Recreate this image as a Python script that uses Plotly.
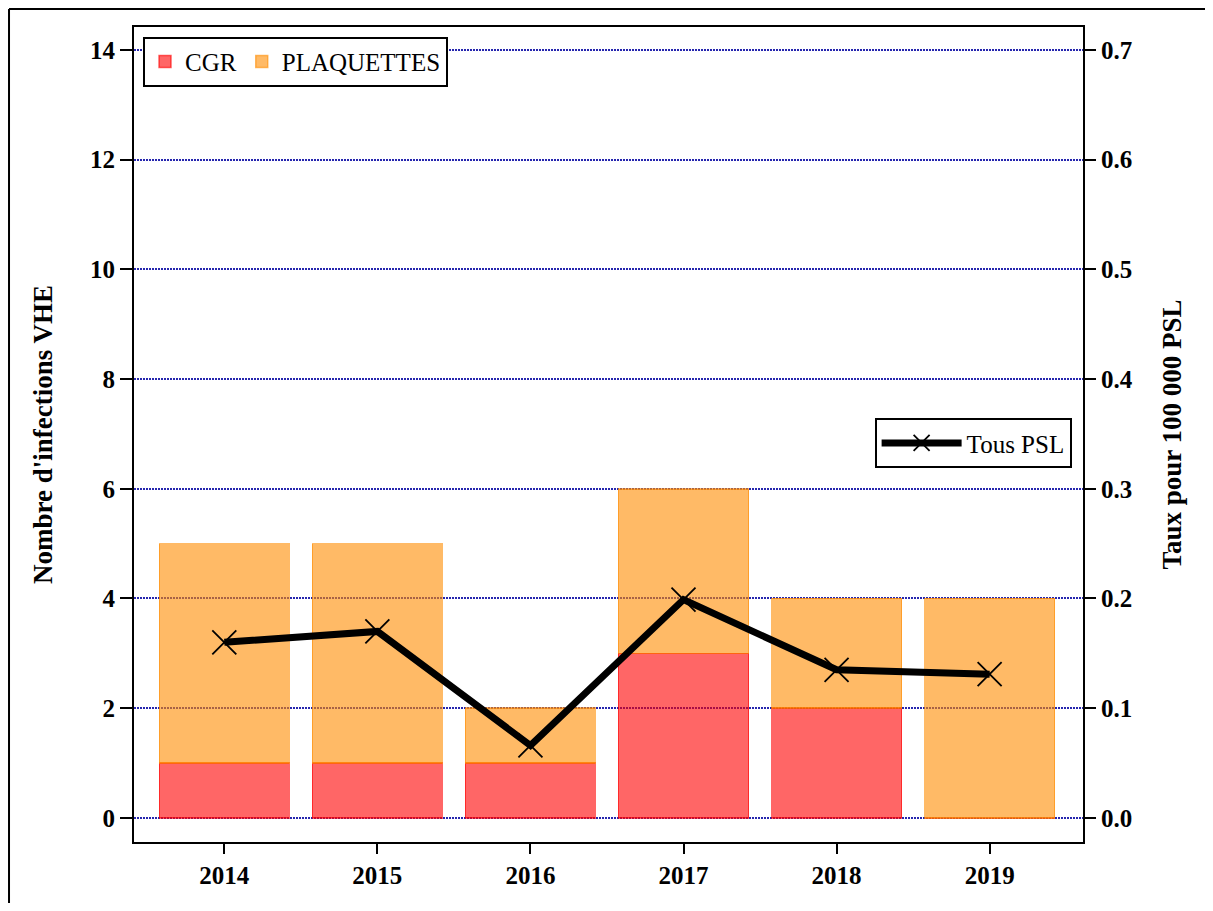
import plotly.graph_objects as go

years = ["2014", "2015", "2016", "2017", "2018", "2019"]
cgr = [1, 1, 1, 3, 2, 0]
plaquettes = [4, 4, 1, 3, 2, 4]
taux = [0.160, 0.170, 0.066, 0.199, 0.135, 0.131]

FONT = "Liberation Serif"

fig = go.Figure()
fig.add_trace(go.Bar(
    x=years, y=cgr, name="CGR", legend="legend",
    marker=dict(color="rgba(255,0,0,0.6)", line=dict(color="rgba(255,0,0,0.6)", width=1.5)),
    width=0.85,
))
fig.add_trace(go.Bar(
    x=years, y=plaquettes, name="PLAQUETTES", legend="legend",
    marker=dict(color="rgba(255,140,0,0.6)", line=dict(color="rgba(255,140,0,0.6)", width=1.5)),
    width=0.85,
))
fig.add_trace(go.Scatter(
    x=years, y=taux, name="Tous PSL", yaxis="y2", legend="legend2",
    mode="lines+markers",
    line=dict(color="black", width=7),
    marker=dict(symbol="x-thin", size=24, line=dict(color="black", width=1.8), color="black"),
))

fig.update_layout(
    width=1197, height=895,
    barmode="stack",
    plot_bgcolor="white", paper_bgcolor="white",
    margin=dict(l=126, r=122, t=19, b=61),
    font=dict(family=FONT, size=25, color="black"),
    xaxis=dict(
        type="category", range=[-0.59, 5.61],
        showline=True, linecolor="black", linewidth=2, mirror=True,
        ticks="outside", ticklen=10, tickwidth=2, tickcolor="black",
        tickfont=dict(family=FONT, size=25, color="black", weight="bold"),
        showgrid=False,
    ),
    yaxis=dict(
        range=[-0.44, 14.42], dtick=2, tick0=0,
        showline=True, linecolor="black", linewidth=2, mirror=True,
        ticks="outside", ticklen=12, tickwidth=2, tickcolor="black",
        tickfont=dict(family=FONT, size=25, color="black", weight="bold"),
        showgrid=True, gridcolor="rgba(0,0,160,0.85)", gridwidth=2, griddash="1.5px,1.5px",
        zeroline=False,
        title=dict(text="Nombre d'infections VHE", font=dict(family=FONT, size=27, color="black", weight="bold"), standoff=30),
    ),
    yaxis2=dict(
        overlaying="y", side="right",
        range=[-0.022, 0.721], dtick=0.1, tick0=0, tickformat=".1f",
        ticks="outside", ticklen=12, tickwidth=2, tickcolor="black",
        tickfont=dict(family=FONT, size=25, color="black", weight="bold"),
        showgrid=False, zeroline=False, showline=False,
        title=dict(text="Taux pour 100 000 PSL", font=dict(family=FONT, size=27, color="black", weight="bold"), standoff=30),
    ),
    legend=dict(
        orientation="h", x=0.0095, y=0.988, xanchor="left", yanchor="top",
        bgcolor="white", bordercolor="black", borderwidth=2,
        font=dict(family=FONT, size=25, color="black"),
        traceorder="normal", itemwidth=30,
    ),
    legend2=dict(
        x=0.988, y=0.52, xanchor="right", yanchor="top",
        bgcolor="white", bordercolor="black", borderwidth=2,
        font=dict(family=FONT, size=25, color="black"),
        itemwidth=80,
    ),
    shapes=[
        dict(type="line", xref="paper", yref="paper", x0=-0.1317, x1=1.2, y0=1.0221, y1=1.0221,
             line=dict(color="black", width=2)),
        dict(type="line", xref="paper", yref="paper", x0=-0.1317, x1=-0.1317, y0=1.0221, y1=-0.2,
             line=dict(color="black", width=2)),
    ],
)

fig.write_html("out.html")
